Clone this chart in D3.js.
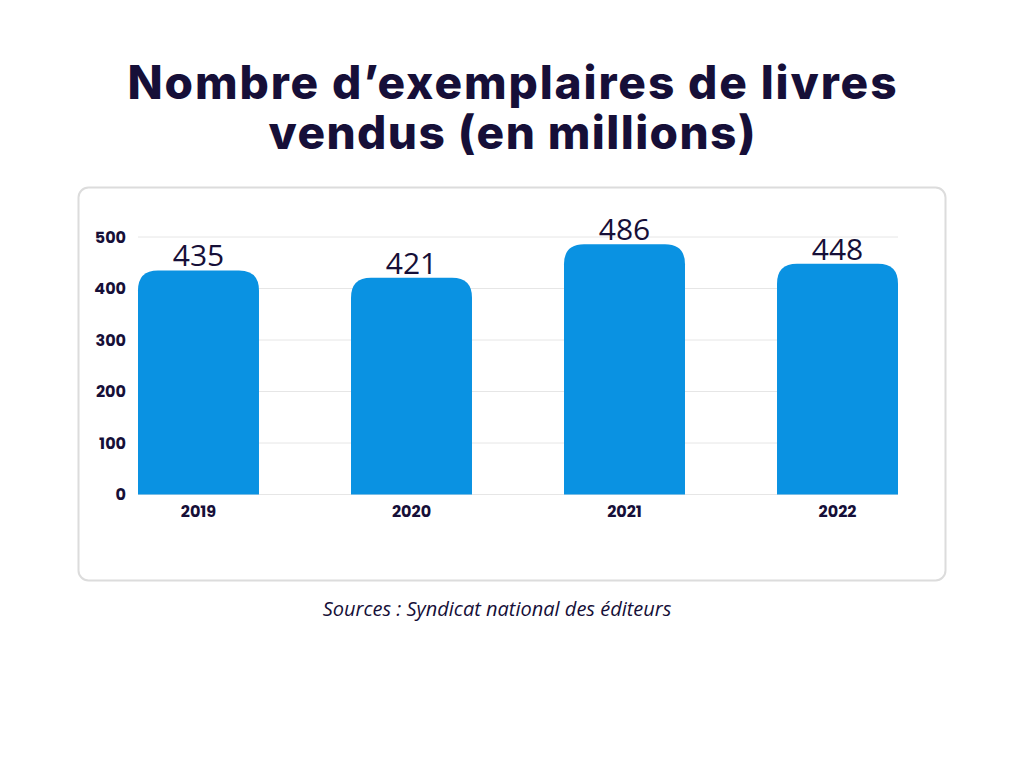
<!DOCTYPE html>
<html><head><meta charset="utf-8">
<script src="https://cdn.jsdelivr.net/npm/d3@7"></script>
<style>body{margin:0;background:#fff}</style>
</head><body>
<svg id="c" width="1024" height="768"></svg>
<script>
const years = ["2019","2020","2021","2022"];
const values = [435, 421, 486, 448];
const yTicks = [0,100,200,300,400,500];
const titleLines = ["Nombre d’exemplaires de livres","vendus (en millions)"];
const source = "Sources : Syndicat national des éditeurs";

const ink = "#160f38";
const svg = d3.select("#c");
svg.append("rect").attr("width",1024).attr("height",768).attr("fill","#fff");

const titleWidths = [769, 487];
svg.selectAll("text.title").data(titleLines).join("text")
  .attr("x",512).attr("y",(d,i)=>99+i*50).attr("text-anchor","middle")
  .attr("font-family","Inter, 'DejaVu Sans', sans-serif").attr("font-weight",800)
  .attr("font-size",46).attr("fill",ink)
  .attr("textLength",(d,i)=>titleWidths[i]).attr("lengthAdjust","spacing")
  .text(d=>d);

svg.append("rect").attr("x",78.5).attr("y",187.5).attr("width",867).attr("height",393)
  .attr("rx",10).attr("fill","#fff").attr("stroke","#dcdcdc").attr("stroke-width",2);

const x = d3.scaleBand().domain(years).range([138,898]).paddingInner(0.432).paddingOuter(0);
const y = d3.scaleLinear().domain([0,500]).range([494.5,237]);

svg.append("g").selectAll("line").data(yTicks).join("line")
  .attr("x1",138).attr("x2",898).attr("y1",d=>y(d)).attr("y2",d=>y(d))
  .attr("stroke","#e6e6e6").attr("stroke-width",1);

const yAxis = svg.append("g").attr("transform","translate(138,0)")
  .call(d3.axisLeft(y).tickValues(yTicks).tickSize(0).tickPadding(12));
yAxis.select(".domain").remove();
yAxis.selectAll("text").attr("font-family","Poppins, 'Open Sans', sans-serif").attr("font-weight",700)
  .attr("font-size",16).attr("fill",ink);

const xAxis = svg.append("g").attr("transform","translate(0,494.5)")
  .call(d3.axisBottom(x).tickSize(0).tickPadding(11));
xAxis.select(".domain").remove();
xAxis.selectAll("text").attr("font-family","Poppins, 'Open Sans', sans-serif").attr("font-weight",700)
  .attr("font-size",16).attr("fill",ink);

const r = 20;
svg.append("g").selectAll("path").data(values).join("path")
  .attr("fill","#0a92e2")
  .attr("d",(d,i)=>{
    const x0=x(years[i]), w=x.bandwidth(), y0=y(d), yb=y(0);
    return `M${x0},${yb}V${y0+r}Q${x0},${y0} ${x0+r},${y0}H${x0+w-r}Q${x0+w},${y0} ${x0+w},${y0+r}V${yb}Z`;
  });

svg.append("g").selectAll("text").data(values).join("text")
  .attr("x",(d,i)=>x(years[i])+x.bandwidth()/2).attr("y",d=>y(d)-4)
  .attr("text-anchor","middle").attr("font-family","'Open Sans', sans-serif")
  .attr("font-size",30).attr("fill",ink).text(d=>d);

svg.append("text").attr("x",497).attr("y",616).attr("text-anchor","middle")
  .attr("font-family","'Open Sans', sans-serif").attr("font-style","italic")
  .attr("font-size",20).attr("fill",ink).text(source);
</script>
</body></html>
